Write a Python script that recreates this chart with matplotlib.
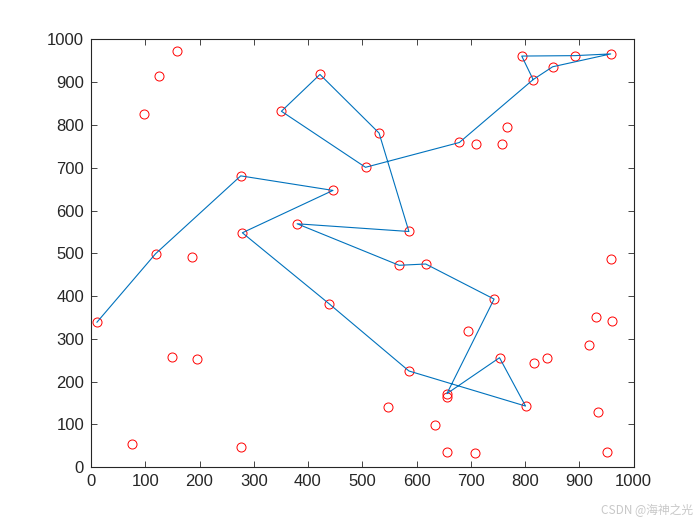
import matplotlib
matplotlib.use('Agg')
import matplotlib.pyplot as plt

# all city points (x, y)
city_x = [11, 119, 276, 446, 279, 439, 586, 801, 753, 656, 743, 617, 568, 380, 586,
          531, 422, 351, 506, 679, 815, 851, 958, 892, 794,
          158, 125, 97, 710, 758, 766, 186, 149, 196, 75, 276,
          959, 931, 961, 918, 695, 816, 841, 548, 634, 656, 707, 935, 951, 656]
city_y = [339, 499, 681, 647, 548, 382, 225, 143, 256, 172, 393, 475, 472, 569, 551,
          781, 918, 832, 701, 759, 906, 936, 966, 962, 961,
          972, 915, 825, 756, 756, 796, 491, 258, 253, 55, 47,
          487, 350, 341, 286, 319, 244, 256, 140, 98, 36, 33, 130, 36, 164]

# route order (as drawn)
route_x = [11, 119, 276, 446, 279, 439, 586, 801, 753, 656, 743, 617, 568, 380, 586,
           531, 422, 351, 506, 679, 815, 851, 958, 892, 794, 815]
route_y = [339, 499, 681, 647, 548, 382, 225, 143, 256, 172, 393, 475, 472, 569, 551,
           781, 918, 832, 701, 759, 906, 936, 966, 962, 961, 906]

fig = plt.figure(figsize=(7, 5.25), dpi=100)
ax = fig.add_axes([0.13, 0.11, 0.775, 0.815])

ax.plot(city_x, city_y, 'o', color='red', markerfacecolor='none',
        markersize=6.5, markeredgewidth=0.7)
ax.plot(route_x, route_y, '-', color=(0, 0.447, 0.741), linewidth=0.8)

ax.set_xlim(0, 1000)
ax.set_ylim(0, 1000)
ax.set_xticks(range(0, 1001, 100))
ax.set_yticks(range(0, 1001, 100))
ax.tick_params(direction='in', top=True, right=True, length=4, width=0.6,
               labelsize=12, pad=5, colors='#262626')
for lab in ax.get_xticklabels() + ax.get_yticklabels():
    lab.set_family('Liberation Sans')
for s in ax.spines.values():
    s.set_linewidth(0.8)
    s.set_color('#262626')

fig.text(0.99, 0.015, 'CSDN @海神之光', ha='right', va='bottom', fontsize=8.5,
         color='#c8c8c8', family=['Noto Sans CJK SC', 'DejaVu Sans'])

fig.savefig('out.png', dpi=100, facecolor='white')
